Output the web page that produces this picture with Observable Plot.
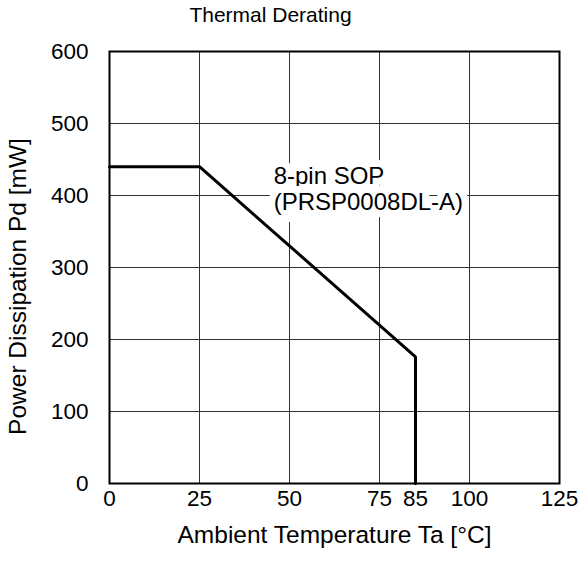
<!DOCTYPE html>
<html>
<head>
<meta charset="utf-8">
<script src="https://cdn.jsdelivr.net/npm/d3@7"></script>
<script src="https://cdn.jsdelivr.net/npm/@observablehq/plot@0.6"></script>
<style>
  html, body { margin: 0; padding: 0; background: #fff; }
  #chart svg { display: block; }
</style>
</head>
<body>
<div id="chart"></div>
<script>
// Derating curve (Ambient temperature °C → Power dissipation mW)
const temperature = [0, 25, 85, 85];
const dissipation = [440, 440, 176, 0];

// Axis ticks
const xTickValues = [0, 25, 50, 75, 85, 100, 125];
const xGridValues = [0, 25, 50, 75, 100, 125];
const yTickValues = [0, 100, 200, 300, 400, 500, 600];

// Texts
const titleText = "Thermal Derating";
const xLabelText = "Ambient Temperature Ta [°C]";
const yLabelText = "Power Dissipation Pd [mW]";
const packageLabel = ["8-pin SOP\n(PRSP0008DL-A)"];
const packageLabelX = [45.6];
const packageLabelY = [409];

const curve = temperature.map((t, i) => ({t, p: dissipation[i]}));
const annotation = packageLabel.map((s, i) => ({s, x: packageLabelX[i], y: packageLabelY[i]}));

const font = "'Liberation Sans', Arial, sans-serif";

const chart = Plot.plot({
  width: 581,
  height: 567,
  marginLeft: 109,
  marginRight: 22,
  marginTop: 51,
  marginBottom: 84,
  style: {fontFamily: font, fontSize: "22.5px", color: "#000", background: "#fff"},
  x: {domain: [0, 125]},
  y: {domain: [0, 600]},
  marks: [
    Plot.gridX(xGridValues, {stroke: "#333", strokeOpacity: 1, strokeWidth: 1}),
    Plot.gridY(yTickValues, {stroke: "#333", strokeOpacity: 1, strokeWidth: 1}),
    Plot.text(annotation, {
      x: "x", y: "y", text: "s", textAnchor: "start", lineHeight: 1.07,
      fontSize: 24, fill: "#000", stroke: "white", strokeWidth: 14, strokeLinejoin: "miter"
    }),
    Plot.line(curve, {x: "t", y: "p", stroke: "#000", strokeWidth: 3, strokeLinejoin: "miter"}),
    Plot.frame({stroke: "#000", strokeWidth: 2}),
    Plot.axisX(xTickValues, {tickSize: 0, tickPadding: 7, fontSize: 22.5, label: null, tickFormat: d => String(d)}),
    Plot.axisY(yTickValues, {tickSize: 0, tickPadding: 21, fontSize: 22.5, label: null, tickFormat: d => String(d)}),
    Plot.text([titleText], {frameAnchor: "top", lineAnchor: "middle", dy: -36, dx: -64, fontSize: 21, fill: "#000"}),
    Plot.text([xLabelText], {frameAnchor: "bottom", lineAnchor: "middle", dy: 52, fontSize: 24.5, fill: "#000"}),
    Plot.text([yLabelText], {frameAnchor: "left", textAnchor: "middle", dx: -91, dy: 19, rotate: -90, fontSize: 24.5, fill: "#000"})
  ]
});

document.getElementById("chart").appendChild(chart);
</script>
</body>
</html>
